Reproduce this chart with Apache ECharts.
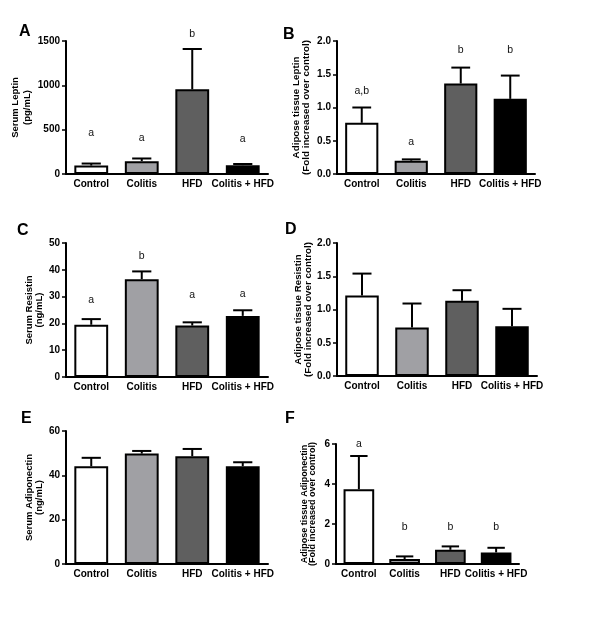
<!DOCTYPE html>
<html><head><meta charset="utf-8">
<script src="https://cdn.jsdelivr.net/npm/echarts@6/dist/echarts.min.js"></script>
<style>html,body{margin:0;padding:0;background:#fff}#c{width:600px;height:642px}</style>
</head><body><div id="c"></div>
<script>
const categories = ['Control', 'Colitis', 'HFD', 'Colitis + HFD'];
const barColors = ['#ffffff', '#a0a0a4', '#5f5f5f', '#000000'];

const serumLeptin = [95, 145, 955, 100];
const serumLeptinErr = [118, 175, 1410, 113];
const serumLeptinLetters = ['a', 'a', 'b', 'a'];
const serumLeptinLetterY = [458, 409, 1575, 394];

const adiposeLeptin = [0.77, 0.20, 1.36, 1.13];
const adiposeLeptinErr = [1.00, 0.22, 1.60, 1.48];
const adiposeLeptinLetters = ['a,b', 'a', 'b', 'b'];
const adiposeLeptinLetterY = [1.25, 0.48, 1.87, 1.87];

const serumResistin = [19.5, 36.5, 19.2, 22.8];
const serumResistinErr = [21.6, 39.4, 20.4, 24.9];
const serumResistinLetters = ['a', 'b', 'a', 'a'];
const serumResistinLetterY = [28.6, 45.0, 30.5, 31.1];

const adiposeResistin = [1.21, 0.73, 1.13, 0.75];
const adiposeResistinErr = [1.54, 1.09, 1.29, 1.01];

const serumAdiponectin = [44.1, 49.8, 48.6, 44.1];
const serumAdiponectinErr = [47.9, 51.0, 51.9, 45.9];

const adiposeAdiponectin = [3.74, 0.25, 0.71, 0.58];
const adiposeAdiponectinErr = [5.40, 0.38, 0.88, 0.81];
const adiposeAdiponectinLetters = ['a', 'b', 'b', 'b'];
const adiposeAdiponectinLetterY = [6.0, 1.83, 1.83, 1.83];

const panels = [
  {tag:'A', vals:serumLeptin, errs:serumLeptinErr, letters:serumLeptinLetters, ly:serumLeptinLetterY,
   name:'Serum Leptin\n(pg/mL)', max:1500, interval:500, dec:0,
   grid:{left:66, top:41, width:202, height:133}, nameGap:30, nameLH:12, nameFS:9.5},
  {tag:'B', vals:adiposeLeptin, errs:adiposeLeptinErr, letters:adiposeLeptinLetters, ly:adiposeLeptinLetterY,
   name:'Adipose tissue Leptin\n(Fold increased over control)', max:2, interval:0.5, dec:1,
   grid:{left:337, top:41, width:198, height:133}, nameGap:26, nameLH:10, nameFS:9.8},
  {tag:'C', vals:serumResistin, errs:serumResistinErr, letters:serumResistinLetters, ly:serumResistinLetterY,
   name:'Serum Resistin\n(ng/mL)', max:50, interval:10, dec:0,
   grid:{left:66, top:243, width:202, height:134}, nameGap:21, nameLH:10.5, nameFS:9.5},
  {tag:'D', vals:adiposeResistin, errs:adiposeResistinErr, letters:null, ly:null,
   name:'Adipose tissue Resistin\n(Fold increased over control)', max:2, interval:0.5, dec:1,
   grid:{left:337, top:243, width:200, height:133}, nameGap:20, nameLH:9.5, nameFS:9.8},
  {tag:'E', vals:serumAdiponectin, errs:serumAdiponectinErr, letters:null, ly:null,
   name:'Serum Adiponectin\n(ng/mL)', max:60, interval:20, dec:0,
   grid:{left:66, top:431, width:202, height:133}, nameGap:21, nameLH:10.5, nameFS:9.5},
  {tag:'F', vals:adiposeAdiponectin, errs:adiposeAdiponectinErr, letters:adiposeAdiponectinLetters, ly:adiposeAdiponectinLetterY,
   name:'Adipose tissue Adiponectin\n(Fold increased over control)', max:6, interval:2, dec:0,
   grid:{left:336, top:444, width:183, height:120}, nameGap:19, nameLH:8.5, nameFS:9}
];

const FONT = '"Liberation Sans", Arial, sans-serif';
const tagPos = [[19,24],[283,27],[17,223],[285,222],[21,411],[285,411]];

const grids = [], xAxes = [], yAxes = [], series = [], graphics = [];
panels.forEach((p, i) => {
  grids.push(Object.assign({containLabel:false}, p.grid));
  xAxes.push({
    type:'category', gridIndex:i, data:categories,
    axisLine:{lineStyle:{color:'#000', width:2}},
    axisTick:{alignWithLabel:true, length:4, lineStyle:{color:'#000', width:1.5}},
    axisLabel:{interval:0, color:'#000', fontWeight:'bold', fontSize:10, fontFamily:FONT, margin:5, hideOverlap:false}
  });
  yAxes.push({
    type:'value', gridIndex:i, min:0, max:p.max, interval:p.interval,
    name:p.name, nameLocation:'middle', nameRotate:90, nameGap:p.nameGap,
    nameTextStyle:{color:'#000', fontWeight:'bold', fontSize:p.nameFS, fontFamily:FONT, lineHeight:p.nameLH},
    splitLine:{show:false},
    axisLine:{show:true, lineStyle:{color:'#000', width:2}},
    axisTick:{show:true, length:4, lineStyle:{color:'#000', width:1.5}},
    axisLabel:{color:'#000', fontWeight:'bold', fontSize:10, fontFamily:FONT, margin:6,
      formatter: v => v.toFixed(p.dec)}
  });
  series.push({
    type:'bar', xAxisIndex:i, yAxisIndex:i, barCategoryGap:'33%',
    data:p.vals.map((v, k) => ({value:v, itemStyle:{color:barColors[k], borderColor:'#000', borderWidth:2}})),
    animation:false
  });
  series.push({
    type:'custom', xAxisIndex:i, yAxisIndex:i, clip:false, animation:false,
    data:p.vals.map((v, k) => [k, v, p.errs[k]]),
    renderItem:(params, api) => {
      const a = api.coord([api.value(0), api.value(1)]);
      const b = api.coord([api.value(0), api.value(2)]);
      const hw = api.size([1, 0])[0] * 0.19;
      return {type:'group', children:[
        {type:'line', shape:{x1:a[0], y1:a[1], x2:b[0], y2:b[1]}, style:{stroke:'#000', lineWidth:2}},
        {type:'line', shape:{x1:b[0]-hw, y1:b[1], x2:b[0]+hw, y2:b[1]}, style:{stroke:'#000', lineWidth:2}}
      ]};
    }
  });
  if (p.letters) {
    series.push({
      type:'custom', xAxisIndex:i, yAxisIndex:i, clip:false, animation:false,
      data:p.ly.map((y, k) => [k, y, p.letters[k]]),
      renderItem:(params, api) => {
        const c = api.coord([api.value(0), api.value(1)]);
        return {type:'text', x:c[0], y:c[1], style:{text:p.letters[params.dataIndex], fill:'#111',
          font:'10.5px ' + FONT, textAlign:'center', textVerticalAlign:'middle'}};
      }
    });
  }
  graphics.push({type:'text', left:tagPos[i][0], top:tagPos[i][1],
    style:{text:p.tag, fill:'#000', font:'bold 16px ' + FONT}});
});

const chart = echarts.init(document.getElementById('c'), null, {renderer:'canvas'});
chart.setOption({
  backgroundColor:'#fff', animation:false,
  grid:grids, xAxis:xAxes, yAxis:yAxes, series:series, graphic:graphics
});
</script></body></html>
